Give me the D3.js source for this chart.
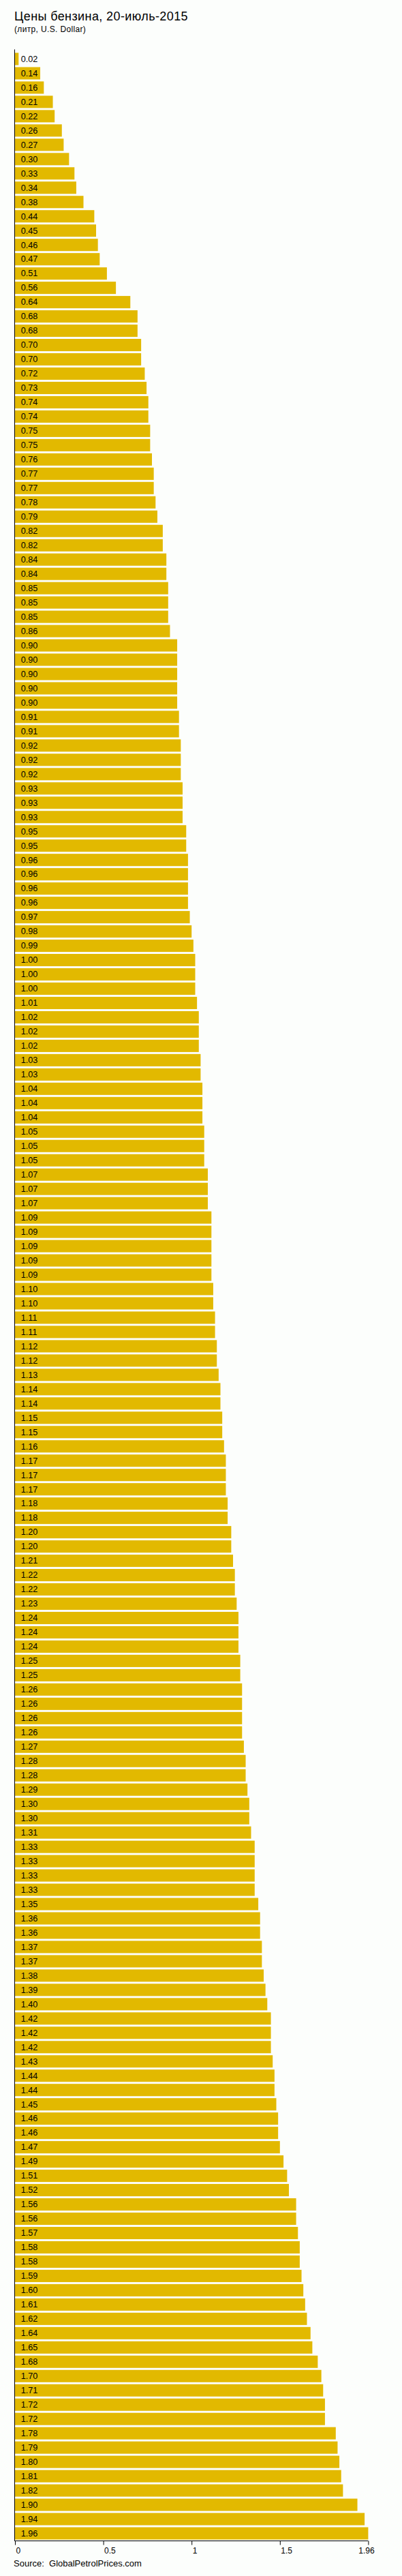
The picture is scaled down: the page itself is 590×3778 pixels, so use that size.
<!DOCTYPE html>
<html>
<head>
<meta charset="utf-8">
<script src="https://cdn.jsdelivr.net/npm/d3@7"></script>
<style>
  body { margin: 0; background: #fcfefc; }
  svg { display: block; font-family: "Liberation Sans", Arial, sans-serif; }
  .title { font-size: 18px; letter-spacing: 0.4px; fill: #000; }
  .subtitle { font-size: 12px; letter-spacing: 0.35px; fill: #000; }
  .bar { fill: #e2b900; }
  .bar-label { font-size: 12.7px; fill: #000; }
  .source { font-size: 13px; fill: #000; white-space: pre; }
  .x-axis text { font-size: 12px; fill: #000; font-family: "Liberation Sans", Arial, sans-serif; }
  .x-axis line, .x-axis path { stroke: #000; }
</style>
</head>
<body>
<div id="wrapper"></div>
<script>
// petrol prices, litre, USD, sorted low to high
const prices = [
  0.02, 0.14, 0.16, 0.21, 0.22, 0.26, 0.27, 0.30, 0.33, 0.34,
  0.38, 0.44, 0.45, 0.46, 0.47, 0.51, 0.56, 0.64, 0.68, 0.68,
  0.70, 0.70, 0.72, 0.73, 0.74, 0.74, 0.75, 0.75, 0.76, 0.77,
  0.77, 0.78, 0.79, 0.82, 0.82, 0.84, 0.84, 0.85, 0.85, 0.85,
  0.86, 0.90, 0.90, 0.90, 0.90, 0.90, 0.91, 0.91, 0.92, 0.92,
  0.92, 0.93, 0.93, 0.93, 0.95, 0.95, 0.96, 0.96, 0.96, 0.96,
  0.97, 0.98, 0.99, 1.00, 1.00, 1.00, 1.01, 1.02, 1.02, 1.02,
  1.03, 1.03, 1.04, 1.04, 1.04, 1.05, 1.05, 1.05, 1.07, 1.07,
  1.07, 1.09, 1.09, 1.09, 1.09, 1.09, 1.10, 1.10, 1.11, 1.11,
  1.12, 1.12, 1.13, 1.14, 1.14, 1.15, 1.15, 1.16, 1.17, 1.17,
  1.17, 1.18, 1.18, 1.20, 1.20, 1.21, 1.22, 1.22, 1.23, 1.24,
  1.24, 1.24, 1.25, 1.25, 1.26, 1.26, 1.26, 1.26, 1.27, 1.28,
  1.28, 1.29, 1.30, 1.30, 1.31, 1.33, 1.33, 1.33, 1.33, 1.35,
  1.36, 1.36, 1.37, 1.37, 1.38, 1.39, 1.40, 1.42, 1.42, 1.42,
  1.43, 1.44, 1.44, 1.45, 1.46, 1.46, 1.47, 1.49, 1.51, 1.52,
  1.56, 1.56, 1.57, 1.58, 1.58, 1.59, 1.60, 1.61, 1.62, 1.64,
  1.65, 1.68, 1.70, 1.71, 1.72, 1.72, 1.78, 1.79, 1.80, 1.81,
  1.82, 1.90, 1.94, 1.96
]
// the original puts ticks at quarters of the max and rounds the labels
const axisTickValues = [0, 0.49, 0.98, 1.47, 1.96]
const axisTickLabels = ["0", "0.5", "1", "1.5", "1.96"]

const titleText = "Цены бензина, 20-июль-2015"
const subtitleText = "(литр, U.S. Dollar)"
const sourceText = "Source:  GlobalPetrolPrices.com"

function drawChart() {
  let dimensions = {
    width: 590,
    height: 3778,
    margin: {
      top: 76,
      right: 50,
      bottom: 52,
      left: 22,
    },
  }
  dimensions.boundedWidth = dimensions.width
    - dimensions.margin.left
    - dimensions.margin.right
  dimensions.boundedHeight = dimensions.height
    - dimensions.margin.top
    - dimensions.margin.bottom

  const wrapper = d3.select("#wrapper")
    .append("svg")
      .attr("width", dimensions.width)
      .attr("height", dimensions.height)

  wrapper.append("text")
      .attr("class", "title")
      .attr("x", 21)
      .attr("y", 30)
      .text(titleText)

  wrapper.append("text")
      .attr("class", "subtitle")
      .attr("x", 21)
      .attr("y", 46.5)
      .text(subtitleText)

  const bounds = wrapper.append("g")
      .attr("transform", `translate(${
        dimensions.margin.left
      },${
        dimensions.margin.top
      })`)

  const xScale = d3.scaleLinear()
    .domain([0, d3.max(prices)])
    .range([0, 518.4])

  const yScale = d3.scaleBand()
    .domain(d3.range(prices.length))
    .range([0, dimensions.boundedHeight])
    .paddingInner(0.14)
    .paddingOuter(0.07)

  bounds.selectAll(".bar")
    .data(prices)
    .enter().append("rect")
      .attr("class", "bar")
      .attr("x", 0)
      .attr("y", (d, i) => yScale(i))
      .attr("width", d => xScale(d))
      .attr("height", yScale.bandwidth())

  bounds.selectAll(".bar-label")
    .data(prices)
    .enter().append("text")
      .attr("class", "bar-label")
      .attr("x", 8.7)
      .attr("y", (d, i) => yScale(i) + yScale.bandwidth() / 2)
      .attr("dy", "0.34em")
      .text(d => d3.format(".2f")(d))

  // left axis line
  bounds.append("line")
      .attr("x1", -0.5)
      .attr("x2", -0.5)
      .attr("y1", -3.5)
      .attr("y2", dimensions.boundedHeight + 1)
      .attr("stroke", "#000")

  const xAxisGenerator = d3.axisBottom()
    .scale(xScale)
    .tickValues(axisTickValues)
    .tickFormat((d, i) => axisTickLabels[i])
    .tickSize(6)
    .tickSizeOuter(0)
    .tickPadding(4)

  const xAxis = bounds.append("g")
      .attr("class", "x-axis")
      .attr("transform", `translate(0, ${dimensions.boundedHeight + 0.5})`)
      .call(xAxisGenerator)

  xAxis.select(".domain")
      .attr("d", `M-1,0H${xScale(d3.max(prices))}`)

  xAxis.selectAll(".tick text")
      .attr("text-anchor", (d, i) => i == axisTickLabels.length - 1 ? "middle" : "start")
      .attr("dx", (d, i) => i == axisTickLabels.length - 1 ? -3 : 1)

  wrapper.append("text")
      .attr("class", "source")
      .attr("x", 20)
      .attr("y", 3764)
      .text(sourceText)
}
drawChart()
</script>
</body>
</html>
